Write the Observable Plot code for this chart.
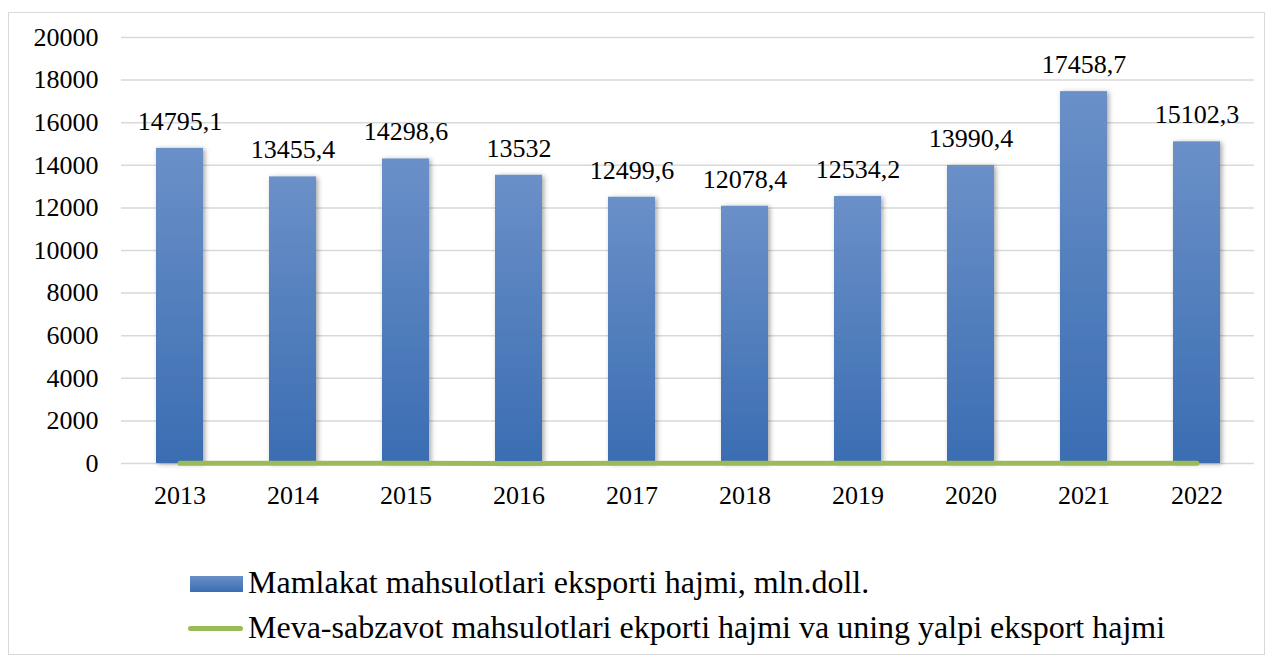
<!DOCTYPE html>
<html>
<head>
<meta charset="utf-8">
<script src="https://cdn.jsdelivr.net/npm/d3@7"></script>
<script src="https://cdn.jsdelivr.net/npm/@observablehq/plot@0.6"></script>
<style>
  body { margin: 0; background: #fff; }
  #frame { position: absolute; left: 8px; top: 12px; width: 1257px; height: 643px; border: 1px solid #d9d9d9; box-sizing: border-box; }
  #chart { position: absolute; left: 0; top: 0; }
  .legend { position: absolute; left: 0; top: 0; }
  .legend .row { position: absolute; white-space: nowrap; font-family: "Times New Roman", "Liberation Serif", serif; font-size: 32px; color: #000; line-height: 36px; }
</style>
</head>
<body>
<div id="frame">
  <div id="chart"></div>
  <div class="legend">
    <div class="row" id="r1" style="left:181px; top:551px;"><span style="display:inline-block;width:53px;height:16px;background:linear-gradient(#6a8fc7,#3a6eb3);vertical-align:middle;margin-right:5px;position:relative;top:-2px"></span><span>Mamlakat mahsulotlari eksporti hajmi, mln.doll.</span></div>
    <div class="row" id="r2" style="left:179px; top:596px;"><span style="display:inline-block;width:55px;height:5px;border-radius:3px;background:#9bbb59;vertical-align:middle;margin-right:5px;position:relative;top:-2px"></span><span>Meva-sabzavot mahsulotlari ekporti hajmi va uning yalpi eksport hajmi</span></div>
  </div>
</div>
<script>
const years = ["2013","2014","2015","2016","2017","2018","2019","2020","2021","2022"];
const exportTotal = [14795.1, 13455.4, 14298.6, 13532, 12499.6, 12078.4, 12534.2, 13990.4, 17458.7, 15102.3];
const exportLabels = ["14795,1","13455,4","14298,6","13532","12499,6","12078,4","12534,2","13990,4","17458,7","15102,3"];
const fruitVegShare = [6.2, 7.6, 5.9, 5.3, 6.9, 7.3, 9.2, 7.2, 6.4, 7.1];
const yTicks = [0, 2000, 4000, 6000, 8000, 10000, 12000, 14000, 16000, 18000, 20000];

const fontFam = `"Times New Roman", "Liberation Serif", serif`;
const fs = 26;

const bars = years.map((y, i) => ({year: y, value: exportTotal[i], label: exportLabels[i]}));
const line = years.map((y, i) => ({year: y, value: fruitVegShare[i]}));

const plot = Plot.plot({
  width: 1255,
  height: 520,
  marginLeft: 112,
  marginRight: 10,
  marginTop: 24,
  marginBottom: 70,
  style: {fontFamily: fontFam, fontSize: fs + "px", color: "#000", background: "transparent"},
  x: {domain: years, paddingInner: 0.585, paddingOuter: 0.2925, label: null, tickSize: 0, tickPadding: 22},
  y: {domain: [0, 20000], ticks: yTicks, label: null, tickSize: 0, tickPadding: 23, tickFormat: d => String(d)},
  marks: [
    Plot.gridY(yTicks, {stroke: "#d9d9d9", strokeOpacity: 1, strokeWidth: 1.5}),
    Plot.barY(bars, {x: "year", y: "value", fill: "url(#barGrad)"}),
    Plot.text(bars, {x: "year", y: "value", text: "label", dy: -27, fontSize: fs, fill: "#000", fontFamily: fontFam}),
    Plot.line(line, {x: "year", y: "value", stroke: "#9bbb59", strokeWidth: 5, strokeLinecap: "round"}),
    Plot.axisX({tickSize: 0, tickPadding: 22, fontSize: fs, fontFamily: fontFam}),
    Plot.axisY({ticks: yTicks, tickSize: 0, tickPadding: 23, fontSize: fs, fontFamily: fontFam, tickFormat: d => String(d)})
  ]
});

const svg = d3.select(plot);
const defs = svg.insert("defs", ":first-child");
const grad = defs.append("linearGradient").attr("id", "barGrad").attr("x1", 0).attr("y1", 0).attr("x2", 0).attr("y2", 1);
grad.append("stop").attr("offset", "0%").attr("stop-color", "#6b90c8");
grad.append("stop").attr("offset", "100%").attr("stop-color", "#3a6db2");
const filt = defs.append("filter").attr("id", "shadow").attr("x", "-30%").attr("y", "-10%").attr("width", "160%").attr("height", "130%");
filt.append("feDropShadow").attr("dx", 2).attr("dy", 1).attr("stdDeviation", 2.5).attr("flood-color", "#000").attr("flood-opacity", 0.35);
svg.selectAll("rect").filter(function() { return d3.select(this).attr("fill") === "url(#barGrad)" || this.parentNode.getAttribute("fill") === "url(#barGrad)"; }).attr("filter", "url(#shadow)");

document.getElementById("chart").appendChild(plot);
</script>
</body>
</html>
